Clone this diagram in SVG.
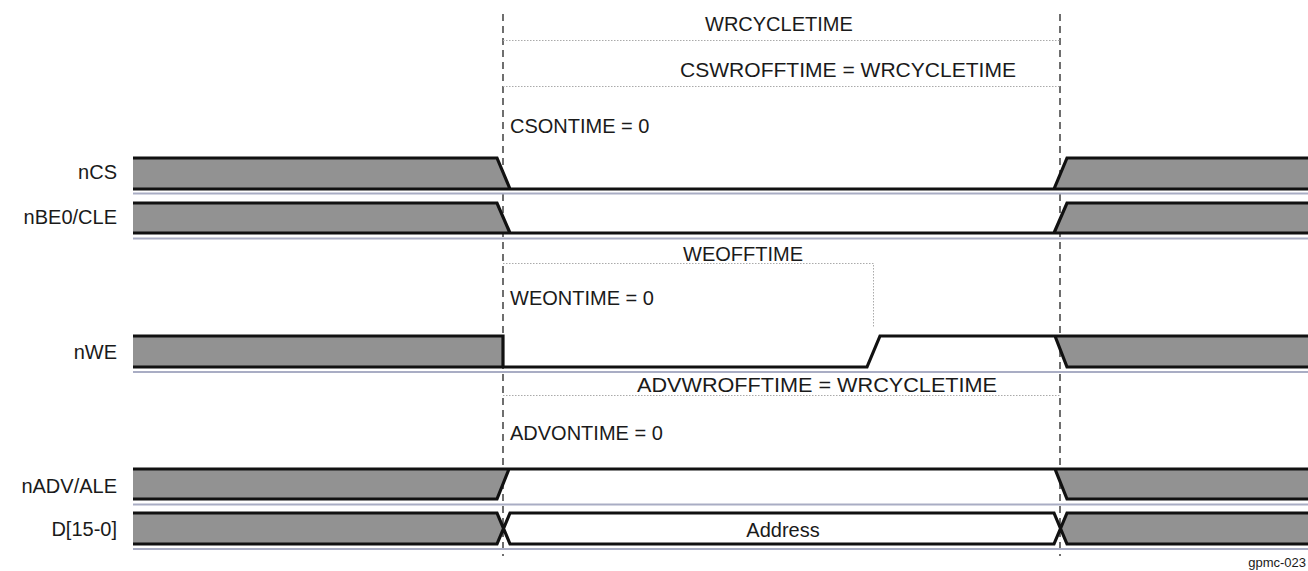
<svg xmlns="http://www.w3.org/2000/svg" width="1308" height="571" viewBox="0 0 1308 571">
<style>
text{font-family:"Liberation Sans",Arial,sans-serif;font-size:20px;fill:#1a1a1a}
.lbl{text-anchor:end}
.gray{fill:#929292;stroke:none}
.wave{fill:none;stroke:#111;stroke-width:3.2;stroke-linejoin:miter}
.base{stroke:#a9adc4;stroke-width:2}
.dash{stroke:#222;stroke-width:1.3;stroke-dasharray:7 5}
.dot{fill:none;stroke:#aaa;stroke-width:1;stroke-dasharray:1.5 1.5}
.note{font-size:13px;text-anchor:end}
</style>
<rect width="1308" height="571" fill="#fff"/>
<g id="connectors">
<line class="dash" x1="503" y1="14" x2="503" y2="556"/>
<line class="dash" x1="1060" y1="14" x2="1060" y2="556"/>
<path class="dot" d="M503,40.5H1060M503,86.5H1060M503,263.5H873.5V328M503,395.5H1060"/>
</g>
<g id="timing-labels">
<text x="705" y="31">WRCYCLETIME</text>
<text x="680" y="77" textLength="336" lengthAdjust="spacingAndGlyphs">CSWROFFTIME = WRCYCLETIME</text>
<text x="510" y="133">CSONTIME = 0</text>
<text x="683" y="261">WEOFFTIME</text>
<text x="510" y="305">WEONTIME = 0</text>
<text x="637" y="392" textLength="360" lengthAdjust="spacingAndGlyphs">ADVWROFFTIME = WRCYCLETIME</text>
<text x="510" y="440">ADVONTIME = 0</text>
</g>
<g id="nCS">
<text class="lbl" x="117" y="179">nCS</text>
<polygon class="gray" points="133,158 497,158 510,189 133,189"/>
<polygon class="gray" points="1067,158 1308,158 1308,189 1054,189"/>
<line class="base" x1="133" y1="193.5" x2="1308" y2="193.5"/>
<path class="wave" d="M133,158H497L510,189M133,189H1308M1054,189L1067,158H1308"/>
</g>
<g id="nBE0-CLE">
<text class="lbl" x="117" y="224">nBE0/CLE</text>
<polygon class="gray" points="133,203 497,203 510,233 133,233"/>
<polygon class="gray" points="1067,203 1308,203 1308,233 1054,233"/>
<line class="base" x1="133" y1="238.5" x2="1308" y2="238.5"/>
<path class="wave" d="M133,203H497L510,233M133,233H1308M1054,233L1067,203H1308"/>
</g>
<g id="nWE">
<text class="lbl" x="117" y="359">nWE</text>
<rect class="gray" x="133" y="336" width="370" height="31"/>
<polygon class="gray" points="1055,336 1308,336 1308,367 1067,367"/>
<line class="base" x1="133" y1="372" x2="1308" y2="372"/>
<path class="wave" d="M133,336H503V367H867L880,336H1308M133,367H503M1055,336L1067,367H1308"/>
</g>
<g id="nADV-ALE">
<text class="lbl" x="117" y="493">nADV/ALE</text>
<polygon class="gray" points="133,469 509,469 497,499 133,499"/>
<polygon class="gray" points="1055,469 1308,469 1308,499 1067,499"/>
<line class="base" x1="133" y1="504.5" x2="1308" y2="504.5"/>
<path class="wave" d="M133,469H1308M133,499H497L509,469M1055,469L1067,499H1308"/>
</g>
<g id="D15-0">
<text class="lbl" x="117" y="536">D[15-0]</text>
<polygon class="gray" points="133,513 497,513 503.5,528.5 497,544 133,544"/>
<polygon class="gray" points="1067,513 1308,513 1308,544 1067,544 1060.5,528.5"/>
<line class="base" x1="133" y1="549" x2="1308" y2="549"/>
<path class="wave" d="M133,513H497L510,544H1054L1067,513H1308M133,544H497L510,513H1054L1067,544H1308"/>
<text x="783" y="537" text-anchor="middle">Address</text>
</g>
<text class="note" x="1306" y="567">gpmc-023</text>
</svg>
